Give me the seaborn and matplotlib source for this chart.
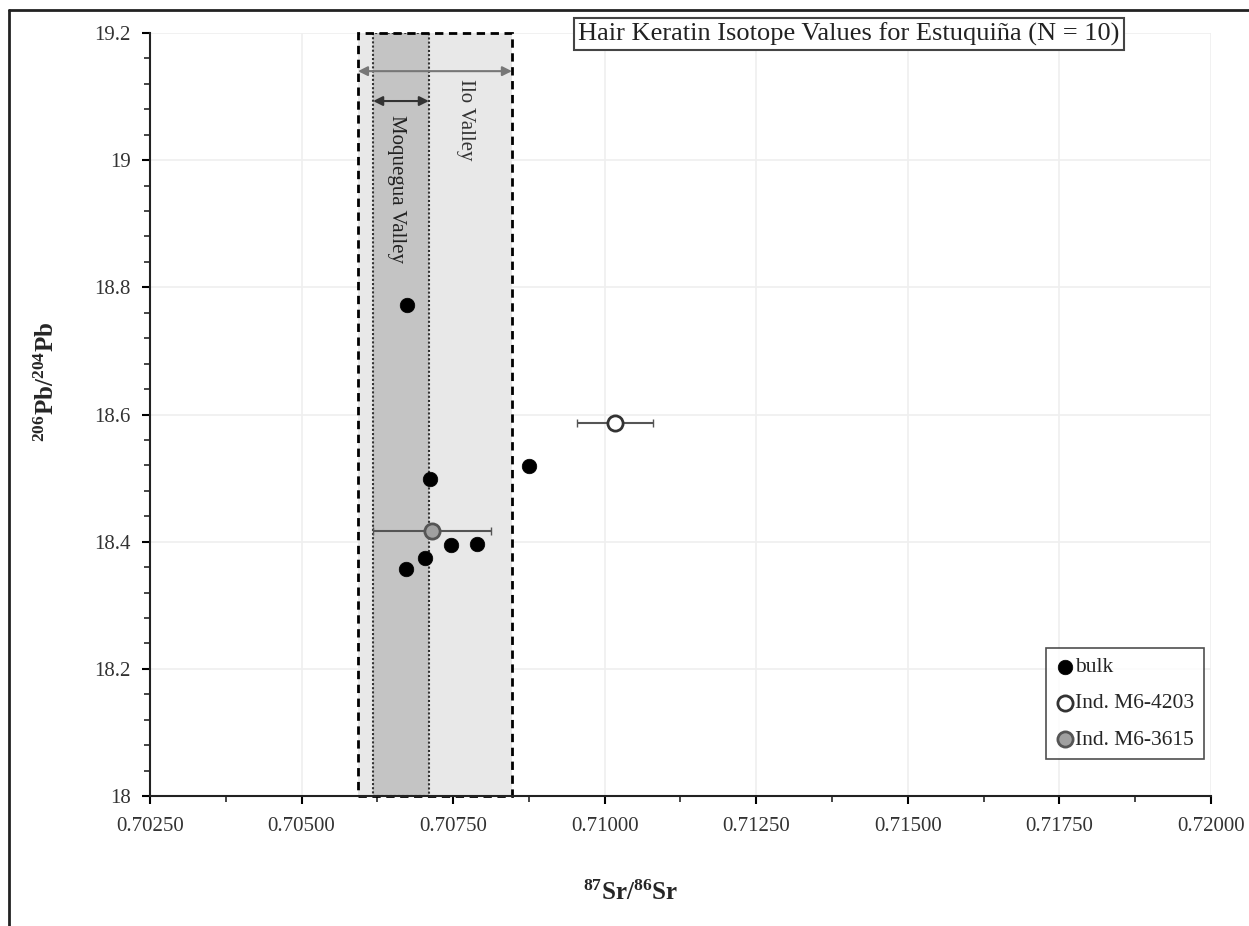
import numpy as np
import pandas as pd
import seaborn as sns
import matplotlib.pyplot as plt
from matplotlib.lines import Line2D
from matplotlib.patches import Rectangle
from matplotlib.ticker import MultipleLocator, AutoMinorLocator

# --- data ---
bulk_sr = [0.70674, 0.70712, 0.70875, 0.70747, 0.70790, 0.70703, 0.70673]
bulk_pb = [18.772, 18.498, 18.519, 18.395, 18.397, 18.375, 18.357]

ind_labels = ['Ind. M6-4203', 'Ind. M6-3615']
ind_sr = [0.71017, 0.70715]
ind_pb = [18.586, 18.417]
ind_sr_err = [0.00062, 0.00098]
ind_face = ['white', '#a0a0a0']
ind_edge = ['#333333', '#555555']

ilo_range = [0.70593, 0.70847]
moq_range = [0.70618, 0.70710]

sns.set_style('white')
plt.rcParams['font.family'] = ['Liberation Serif', 'DejaVu Serif']
plt.rcParams['mathtext.fontset'] = 'custom'
plt.rcParams['mathtext.rm'] = 'Liberation Serif'
plt.rcParams['mathtext.bf'] = 'Liberation Serif:bold'

fig = plt.figure(figsize=(12.49, 9.26), dpi=100)
ax = fig.add_axes([150/1249, 1-796/926, (1211-150)/1249, (796-33)/926])

ax.set_xlim(0.7025, 0.72)
ax.set_ylim(18, 19.2)

# valley ranges
ax.add_patch(Rectangle((ilo_range[0], 18), ilo_range[1]-ilo_range[0], 1.2,
                       facecolor='#e8e8e8', edgecolor='none', zorder=1))
ax.add_patch(Rectangle((moq_range[0], 18), moq_range[1]-moq_range[0], 1.2,
                       facecolor='#c4c4c4', edgecolor='#333333', lw=1.5,
                       ls=(0, (1, 1)), zorder=2))
ax.add_patch(Rectangle((ilo_range[0], 18), ilo_range[1]-ilo_range[0], 1.2,
                       facecolor='none', edgecolor='black', lw=2,
                       ls=(0, (3, 2)), zorder=3, clip_on=False))

ax.annotate('', xy=(ilo_range[0], 19.14), xytext=(ilo_range[1], 19.14),
            arrowprops=dict(arrowstyle='<|-|>', color='#777777', lw=1.5,
                            shrinkA=0, shrinkB=0, mutation_scale=14), zorder=4)
ax.annotate('', xy=(moq_range[0], 19.093), xytext=(moq_range[1], 19.093),
            arrowprops=dict(arrowstyle='<|-|>', color='#333333', lw=1.5,
                            shrinkA=0, shrinkB=0, mutation_scale=14), zorder=4)
ax.text(0.70771, 19.063, 'Ilo Valley', rotation=-90, ha='center', va='center',
        fontsize=15, color='#333333', zorder=5)
ax.text(0.70657, 18.955, 'Moquegua Valley', rotation=-90, ha='center', va='center',
        fontsize=15, color='#222222', zorder=5)

# points
bulk = pd.DataFrame({'sr': bulk_sr, 'pb': bulk_pb})
sns.scatterplot(data=bulk, x='sr', y='pb', ax=ax, color='black', s=110,
                edgecolor='black', linewidth=0.5, label='bulk', zorder=6)

for lab, x, y, xe, fc, ec in zip(ind_labels, ind_sr, ind_pb, ind_sr_err,
                                 ind_face, ind_edge):
    ax.errorbar(x, y, xerr=xe, fmt='none', ecolor='#555555', elinewidth=1.5,
                capsize=3, zorder=6)
    sns.scatterplot(x=[x], y=[y], ax=ax, color=fc, s=120, edgecolor=ec,
                    linewidth=2, label=lab, zorder=7)

# axes styling
ax.xaxis.set_major_locator(MultipleLocator(0.0025))
ax.xaxis.set_minor_locator(AutoMinorLocator(2))
ax.yaxis.set_major_locator(MultipleLocator(0.2))
ax.yaxis.set_minor_locator(AutoMinorLocator(5))
ax.set_xticklabels(['%.5f' % v for v in ax.get_xticks()])
ax.set_yticklabels(['%g' % round(v, 1) for v in ax.get_yticks()])
ax.tick_params(which='major', direction='out', length=6, width=1.5, labelsize=15,
               bottom=True, left=True, colors='black')
ax.tick_params(which='minor', direction='out', length=4, width=1.2,
               bottom=True, left=True)
ax.tick_params(axis='x', pad=9, labelcolor='#333333')
ax.tick_params(axis='y', pad=8, labelcolor='#333333')
ax.grid(True, which='major', color='#efefef', lw=1.2, zorder=0)
ax.set_axisbelow(True)
for s in ['top', 'right']:
    ax.spines[s].set_visible(False)
for s in ['left', 'bottom']:
    ax.spines[s].set_color('#222222')
    ax.spines[s].set_linewidth(1.5)
    ax.spines[s].set_zorder(8)

ax.set_xlabel('')
ax.set_ylabel('')
fig.text(630/1249, 1-893/926, r'$\mathbf{^{87}Sr/^{86}Sr}$', ha='center',
         va='center', fontsize=18)
fig.text(47/1249, 1-382/926, r'$\mathbf{^{206}Pb/^{204}Pb}$', ha='center',
         va='center', fontsize=18, rotation=90)

fig.text(849/1249, 1-34/926, 'Hair Keratin Isotope Values for Estuquiña (N = 10)',
         ha='center', va='center', fontsize=19, color='#222222',
         bbox=dict(boxstyle='square,pad=0.15', fc='white', ec='#444444', lw=1.5))

leg = ax.legend(loc='lower right', bbox_to_anchor=(0.993, 0.048), fontsize=15.5,
                frameon=True, fancybox=False, handletextpad=0.0,
                borderpad=0.45, labelspacing=0.75, markerscale=1.0,
                handlelength=0.9, borderaxespad=0.0)
leg.get_frame().set_edgecolor('#222222')
leg.get_frame().set_linewidth(1.2)

# figure border (top and left)
fig.add_artist(Line2D([9/1249, 1.0], [1-10/926, 1-10/926], color='#222222', lw=2))
fig.add_artist(Line2D([9/1249, 9/1249], [0, 1-10/926], color='#222222', lw=2))

fig.savefig('out.png', dpi=100)
